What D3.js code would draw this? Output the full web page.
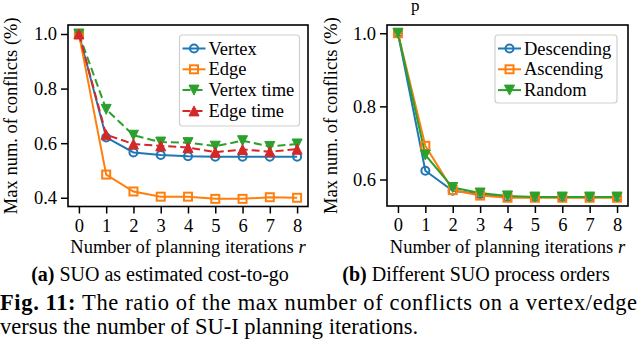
<!DOCTYPE html>
<html>
<head>
<meta charset="utf-8">
<script src="https://cdn.jsdelivr.net/npm/d3@7"></script>
</head>
<body style="margin:0">
<script>
// datos
var ITERACIONES = [0, 1, 2, 3, 4, 5, 6, 7, 8];
var VERTEX = [1.0, 0.621, 0.566, 0.557, 0.552, 0.550, 0.550, 0.550, 0.550];
var EDGE = [1.0, 0.485, 0.423, 0.404, 0.404, 0.396, 0.396, 0.402, 0.400];
var VERTEX_TIME = [1.0, 0.724, 0.629, 0.604, 0.602, 0.589, 0.609, 0.588, 0.597];
var EDGE_TIME = [1.0, 0.631, 0.597, 0.590, 0.584, 0.567, 0.577, 0.569, 0.578];
var DESCENDING = [1.0, 0.624, 0.569, 0.560, 0.552, 0.552, 0.552, 0.552, 0.552];
var ASCENDING = [1.0, 0.692, 0.571, 0.556, 0.550, 0.550, 0.550, 0.550, 0.550];
var RANDOM = [1.0, 0.667, 0.578, 0.563, 0.555, 0.552, 0.552, 0.552, 0.552];
var TICKS_Y_A = [0.4, 0.6, 0.8, 1.0];
var TICKS_Y_B = [0.6, 0.8, 1.0];

var w = 640;
var h = 340;
var FONT = 18.5;
var SERIF = "Liberation Serif";

var svg = d3.select("body").append("svg").attr("width", w).attr("height", h).attr("font-family", SERIF);

// restos de la linea de texto anterior (cortada arriba)
svg.append("text").attr("x", 411).attr("y", 11).attr("font-size", 17).text("p");

function panel(cfg) {
  var x = d3.scaleLinear().domain([-0.4, 8.4]).range([cfg.left, cfg.right]);
  var y = d3.scaleLinear().domain(cfg.yDomain).range([cfg.bottom, cfg.top]);
  var g = svg.append("g");

  var yAxis = d3.axisLeft(y).tickValues(cfg.yTicks).tickFormat(d3.format(".1f")).tickSize(7).tickPadding(4);
  var xAxis = d3.axisBottom(x).tickValues(ITERACIONES).tickFormat(d3.format("d")).tickSize(7).tickPadding(5);

  g.append("g").attr("transform", "translate(" + cfg.left + ",0)").call(yAxis).attr("font-family", SERIF);
  g.append("g").attr("transform", "translate(0," + cfg.bottom + ")").call(xAxis).attr("font-family", SERIF);
  g.selectAll(".domain").remove();
  g.selectAll(".tick line").attr("stroke", "#000").attr("stroke-width", 1.5);
  g.selectAll(".tick text").attr("font-size", FONT).attr("fill", "#000");

  // lineas
  var line = d3.line().x(function (d, i) { return x(ITERACIONES[i]); }).y(function (d) { return y(d); });
  cfg.series.forEach(function (s) {
    g.append("path").attr("d", line(s.values)).attr("fill", "none").attr("stroke", s.color)
      .attr("stroke-width", 2).attr("stroke-dasharray", s.dash ? "8,4" : null);
  });
  cfg.series.forEach(function (s) {
    s.values.forEach(function (v, i) {
      marcador(g, s, x(ITERACIONES[i]), y(v));
    });
  });

  // marco
  g.append("rect").attr("x", cfg.left).attr("y", cfg.top).attr("width", cfg.right - cfg.left)
    .attr("height", cfg.bottom - cfg.top).attr("fill", "none").attr("stroke", "#000").attr("stroke-width", 1.6);

  // etiquetas de ejes
  var xl = g.append("text").attr("x", (cfg.left + cfg.right) / 2).attr("y", 253).attr("text-anchor", "middle")
    .attr("font-size", FONT);
  xl.append("tspan").text("Number of planning iterations ");
  xl.append("tspan").attr("font-style", "italic").text("r");

  g.append("text").attr("transform", "translate(" + cfg.ylabelX + "," + (cfg.top + cfg.bottom) / 2 + ") rotate(-90)")
    .attr("text-anchor", "middle").attr("font-size", FONT).text("Max num. of conflicts (%)");

  // leyenda
  var lg = g.append("g");
  lg.append("rect").attr("x", cfg.legend.x).attr("y", cfg.legend.y).attr("width", cfg.legend.w)
    .attr("height", cfg.legend.h).attr("rx", 3).attr("fill", "#fff").attr("fill-opacity", 0.8)
    .attr("stroke", "#d0d0d0").attr("stroke-width", 1.2);
  cfg.series.forEach(function (s, i) {
    var cy = cfg.legend.y + 13.5 + i * 20.8;
    var hx = cfg.legend.x + 3;
    lg.append("line").attr("x1", hx).attr("x2", hx + 23).attr("y1", cy).attr("y2", cy)
      .attr("stroke", s.color).attr("stroke-width", 2).attr("stroke-dasharray", s.dash ? "8,4" : null);
    marcador(lg, s, hx + 11.5, cy);
    lg.append("text").attr("x", hx + 26).attr("y", cy + 6).attr("font-size", FONT).text(s.name);
  });
}

function marcador(g, s, cx, cy) {
  if (s.marker === "circle") {
    g.append("circle").attr("cx", cx).attr("cy", cy).attr("r", 4).attr("fill", "none")
      .attr("stroke", s.color).attr("stroke-width", 2);
  } else if (s.marker === "square") {
    g.append("rect").attr("x", cx - 4).attr("y", cy - 4).attr("width", 8).attr("height", 8)
      .attr("fill", "none").attr("stroke", s.color).attr("stroke-width", 2);
  } else {
    var k = 5;
    var p = s.marker === "down"
      ? "M" + (cx - k) + "," + (cy - k) + "L" + (cx + k) + "," + (cy - k) + "L" + cx + "," + (cy + k) + "Z"
      : "M" + cx + "," + (cy - k) + "L" + (cx + k) + "," + (cy + k) + "L" + (cx - k) + "," + (cy + k) + "Z";
    g.append("path").attr("d", p).attr("fill", s.color).attr("stroke", s.color).attr("stroke-width", 1);
  }
}

panel({
  left: 68, right: 308, top: 25, bottom: 206.5, yDomain: [0.368, 1.033], yTicks: TICKS_Y_A, ylabelX: 17,
  legend: { x: 179.5, y: 35, w: 120, h: 91 },
  series: [
    { name: "Vertex", values: VERTEX, color: "#1f77b4", marker: "circle", dash: false },
    { name: "Edge", values: EDGE, color: "#ff7f0e", marker: "square", dash: false },
    { name: "Vertex time", values: VERTEX_TIME, color: "#2ca02c", marker: "down", dash: true },
    { name: "Edge time", values: EDGE_TIME, color: "#d62728", marker: "up", dash: true }
  ]
});

panel({
  left: 387, right: 628, top: 25, bottom: 206, yDomain: [0.5275, 1.0225], yTicks: TICKS_Y_B, ylabelX: 337,
  legend: { x: 495, y: 35, w: 122, h: 68 },
  series: [
    { name: "Descending", values: DESCENDING, color: "#1f77b4", marker: "circle", dash: false },
    { name: "Ascending", values: ASCENDING, color: "#ff7f0e", marker: "square", dash: false },
    { name: "Random", values: RANDOM, color: "#2ca02c", marker: "down", dash: false }
  ]
});

// pies de figura
var ca = svg.append("text").attr("x", 160).attr("y", 281).attr("text-anchor", "middle").attr("font-size", 20);
ca.append("tspan").attr("font-weight", "bold").text("(a)");
ca.append("tspan").text(" SUO as estimated cost-to-go");
var cb = svg.append("text").attr("x", 476).attr("y", 281).attr("text-anchor", "middle").attr("font-size", 20);
cb.append("tspan").attr("font-weight", "bold").text("(b)");
cb.append("tspan").text(" Different SUO process orders");

var f1 = svg.append("text").attr("x", 0).attr("y", 310).attr("font-size", 22.5)
  .attr("textLength", 637).attr("lengthAdjust", "spacing");
f1.append("tspan").attr("font-weight", "bold").text("Fig. 11:");
f1.append("tspan").text(" The ratio of the max number of conflicts on a vertex/edge");
svg.append("text").attr("x", 0).attr("y", 334).attr("font-size", 22.5)
  .text("versus the number of SU-I planning iterations.");
</script>
</body>
</html>
